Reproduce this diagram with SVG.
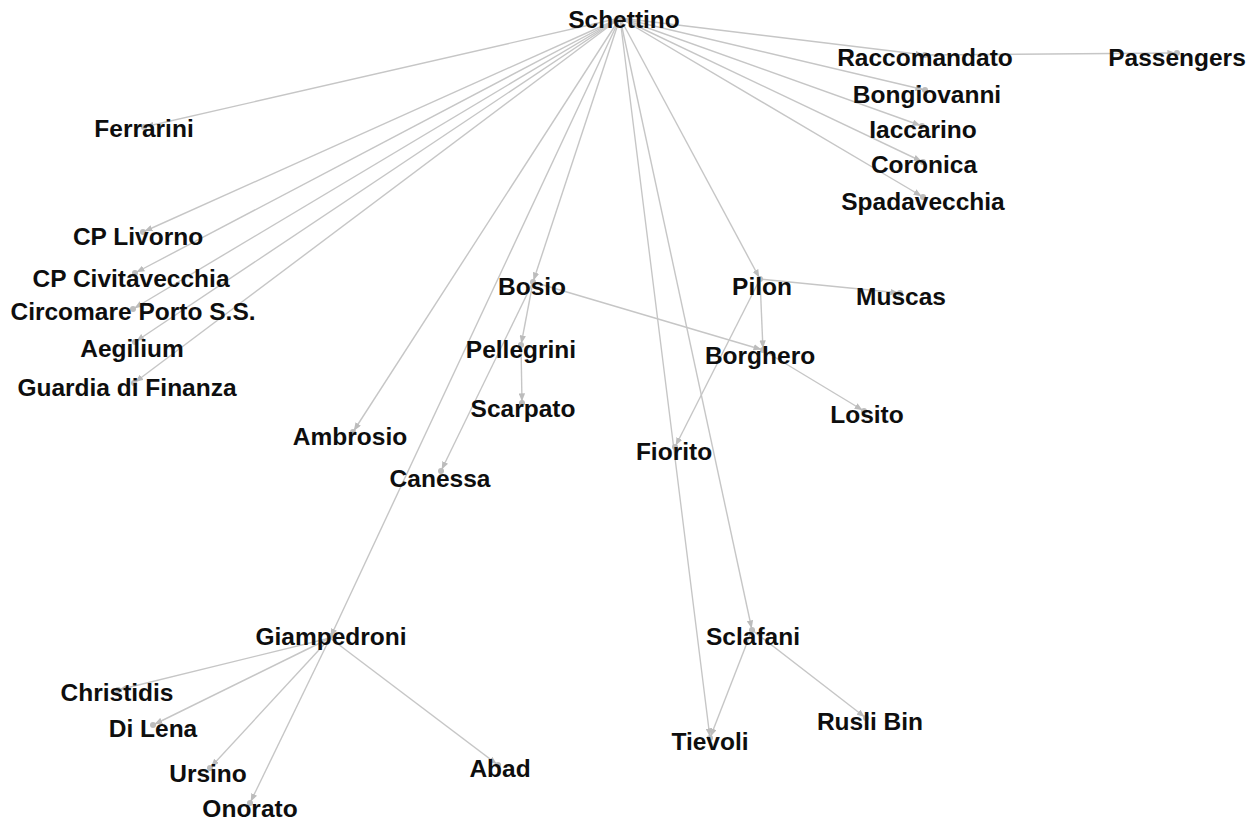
<svg xmlns="http://www.w3.org/2000/svg" width="1259" height="823" viewBox="0 0 1259 823">
  <defs>
    <style>
      .edge { stroke: #c6c6c6; stroke-width: 1.4; fill: none; marker-end: url(#arrow); }
      .dot { fill: #bdbdbd; }
      .label { font-family: "Liberation Sans", Arial, Helvetica, sans-serif; font-weight: bold; font-size: 24.5px; fill: #0e0e0e; text-anchor: middle; }
    </style>
    <marker id="arrow" viewBox="0 0 10 8" refX="12" refY="4" markerWidth="8" markerHeight="6.4" markerUnits="userSpaceOnUse" orient="auto">
      <path d="M0,0 L10,4 L0,8 z" fill="#bcbcbc"/>
    </marker>
  </defs>
  <rect width="1259" height="823" fill="#ffffff"/>

  <!-- connectors -->
  <g id="connectors">
    <line class="edge" x1="620" y1="18" x2="925" y2="55"/>
    <line class="edge" x1="620" y1="18" x2="925" y2="90"/>
    <line class="edge" x1="620" y1="18" x2="922" y2="126"/>
    <line class="edge" x1="620" y1="18" x2="923" y2="162"/>
    <line class="edge" x1="620" y1="18" x2="923" y2="197"/>
    <line class="edge" x1="620" y1="18" x2="760" y2="279"/>
    <line class="edge" x1="620" y1="18" x2="752" y2="630"/>
    <line class="edge" x1="620" y1="18" x2="710" y2="738"/>
    <line class="edge" x1="620" y1="18" x2="533" y2="282"/>
    <line class="edge" x1="620" y1="18" x2="330" y2="638"/>
    <line class="edge" x1="620" y1="18" x2="353" y2="432"/>
    <line class="edge" x1="620" y1="18" x2="144" y2="127"/>
    <line class="edge" x1="620" y1="18" x2="143" y2="232"/>
    <line class="edge" x1="620" y1="18" x2="135" y2="273"/>
    <line class="edge" x1="620" y1="18" x2="133" y2="309"/>
    <line class="edge" x1="620" y1="18" x2="135" y2="342"/>
    <line class="edge" x1="620" y1="18" x2="134" y2="383"/>
    <line class="edge" x1="925" y1="55" x2="1177" y2="53"/>
    <line class="edge" x1="760" y1="279" x2="900" y2="293"/>
    <line class="edge" x1="760" y1="279" x2="763" y2="350"/>
    <line class="edge" x1="760" y1="279" x2="675" y2="447"/>
    <line class="edge" x1="533" y1="282" x2="521" y2="345"/>
    <line class="edge" x1="533" y1="282" x2="441" y2="471"/>
    <line class="edge" x1="533" y1="282" x2="763" y2="350"/>
    <line class="edge" x1="521" y1="345" x2="522" y2="403"/>
    <line class="edge" x1="763" y1="350" x2="864" y2="411"/>
    <line class="edge" x1="330" y1="638" x2="118" y2="690"/>
    <line class="edge" x1="330" y1="638" x2="153" y2="725"/>
    <line class="edge" x1="330" y1="638" x2="210" y2="768"/>
    <line class="edge" x1="330" y1="638" x2="250" y2="803"/>
    <line class="edge" x1="330" y1="638" x2="498" y2="765"/>
    <line class="edge" x1="752" y1="630" x2="710" y2="738"/>
    <line class="edge" x1="752" y1="630" x2="866" y2="718"/>
  </g>

  <!-- nodes -->
  <g id="n-schettino"><circle class="dot" cx="620" cy="18" r="3"/><text class="label" x="624" y="28">Schettino</text></g>
  <g id="n-raccomandato"><circle class="dot" cx="925" cy="55" r="3"/><text class="label" x="925" y="66">Raccomandato</text></g>
  <g id="n-passengers"><circle class="dot" cx="1177" cy="53" r="3"/><text class="label" x="1177" y="66">Passengers</text></g>
  <g id="n-bongiovanni"><circle class="dot" cx="925" cy="90" r="3"/><text class="label" x="927" y="103">Bongiovanni</text></g>
  <g id="n-iaccarino"><circle class="dot" cx="922" cy="126" r="3"/><text class="label" x="923" y="138">Iaccarino</text></g>
  <g id="n-coronica"><circle class="dot" cx="923" cy="162" r="3"/><text class="label" x="924" y="173">Coronica</text></g>
  <g id="n-spadavecchia"><circle class="dot" cx="923" cy="197" r="3"/><text class="label" x="923" y="210">Spadavecchia</text></g>
  <g id="n-ferrarini"><circle class="dot" cx="144" cy="127" r="3"/><text class="label" x="144" y="137">Ferrarini</text></g>
  <g id="n-cp-livorno"><circle class="dot" cx="143" cy="232" r="3"/><text class="label" x="138" y="245">CP Livorno</text></g>
  <g id="n-cp-civitavecchia"><circle class="dot" cx="135" cy="273" r="3"/><text class="label" x="131" y="287">CP Civitavecchia</text></g>
  <g id="n-circomare"><circle class="dot" cx="133" cy="309" r="3"/><text class="label" x="133" y="320">Circomare Porto S.S.</text></g>
  <g id="n-aegilium"><circle class="dot" cx="135" cy="342" r="3"/><text class="label" x="132" y="357">Aegilium</text></g>
  <g id="n-guardia"><circle class="dot" cx="134" cy="383" r="3"/><text class="label" x="127" y="396">Guardia di Finanza</text></g>
  <g id="n-bosio"><circle class="dot" cx="533" cy="282" r="3"/><text class="label" x="532" y="295">Bosio</text></g>
  <g id="n-pellegrini"><circle class="dot" cx="521" cy="345" r="3"/><text class="label" x="521" y="358">Pellegrini</text></g>
  <g id="n-scarpato"><circle class="dot" cx="522" cy="403" r="3"/><text class="label" x="523" y="417">Scarpato</text></g>
  <g id="n-canessa"><circle class="dot" cx="441" cy="471" r="3"/><text class="label" x="440" y="487">Canessa</text></g>
  <g id="n-ambrosio"><circle class="dot" cx="353" cy="432" r="3"/><text class="label" x="350" y="445">Ambrosio</text></g>
  <g id="n-fiorito"><circle class="dot" cx="675" cy="447" r="3"/><text class="label" x="674" y="460">Fiorito</text></g>
  <g id="n-pilon"><circle class="dot" cx="760" cy="279" r="3"/><text class="label" x="762" y="295">Pilon</text></g>
  <g id="n-muscas"><circle class="dot" cx="900" cy="293" r="3"/><text class="label" x="901" y="305">Muscas</text></g>
  <g id="n-borghero"><circle class="dot" cx="763" cy="350" r="3"/><text class="label" x="760" y="364">Borghero</text></g>
  <g id="n-losito"><circle class="dot" cx="864" cy="411" r="3"/><text class="label" x="867" y="423">Losito</text></g>
  <g id="n-giampedroni"><circle class="dot" cx="330" cy="636" r="3"/><text class="label" x="331" y="645">Giampedroni</text></g>
  <g id="n-christidis"><circle class="dot" cx="118" cy="690" r="3"/><text class="label" x="117" y="701">Christidis</text></g>
  <g id="n-di-lena"><circle class="dot" cx="153" cy="725" r="3"/><text class="label" x="153" y="737">Di Lena</text></g>
  <g id="n-ursino"><circle class="dot" cx="210" cy="768" r="3"/><text class="label" x="208" y="782">Ursino</text></g>
  <g id="n-onorato"><circle class="dot" cx="250" cy="803" r="3"/><text class="label" x="250" y="817">Onorato</text></g>
  <g id="n-abad"><circle class="dot" cx="498" cy="765" r="3"/><text class="label" x="500" y="777">Abad</text></g>
  <g id="n-sclafani"><circle class="dot" cx="752" cy="630" r="3"/><text class="label" x="753" y="645">Sclafani</text></g>
  <g id="n-tievoli"><circle class="dot" cx="710" cy="738" r="3"/><text class="label" x="710" y="750">Tievoli</text></g>
  <g id="n-rusli-bin"><circle class="dot" cx="866" cy="718" r="3"/><text class="label" x="870" y="730">Rusli Bin</text></g>
</svg>
